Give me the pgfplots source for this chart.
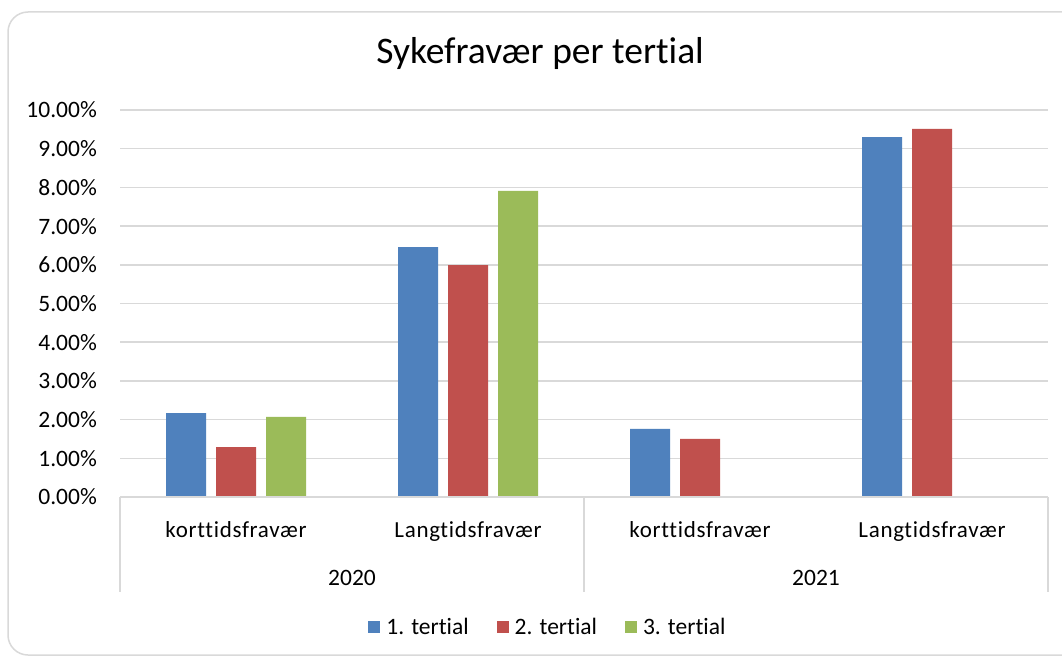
\documentclass[border=0pt]{standalone}
\usepackage{pgfplots}
\pgfplotsset{compat=1.18}
\usepackage{fontspec}
\setmainfont{Carlito}[Ligatures=CommonOff]
\newfontfamily\spaced{Carlito}[LetterSpace=3,Ligatures=CommonOff]
\definecolor{cblue}{HTML}{4F81BD}
\definecolor{cred}{HTML}{C0504D}
\definecolor{cgreen}{HTML}{9BBB59}
\definecolor{gridc}{HTML}{D9D9D9}
\pgfplotsset{mylegend/.style={legend image code/.code={\fill[##1,draw=none] (0pt,-6pt) rectangle (12pt,6pt);}}}
\begin{document}
\begin{tikzpicture}[x=1pt,y=1pt]
\useasboundingbox (0,0) rectangle (1062,657);
\fill[white] (0,0) rectangle (1062,657);
\begin{scope}
\clip (0,0) rectangle (1062,657);
\draw[gridc, line width=1.5pt, rounded corners=20pt] (8,2) rectangle (1120,645);
\end{scope}
\node[font=\fontsize{37.5}{42}\selectfont] at (540,603) {Sykefravær per tertial};
\begin{axis}[
  at={(120pt,160pt)}, anchor=south west,
  scale only axis, width=928pt, height=387pt,
  xmin=-0.5, xmax=3.5, ymin=0, ymax=10,
  ybar=10pt, bar width=40pt,
  xtick={0,1,2,3},
  xticklabels={korttidsfravær,Langtidsfravær,korttidsfravær,Langtidsfravær},
  ytick={0,1,...,10},
  ymajorgrids, grid style={gridc, line width=1.5pt},
  axis line style={draw=none},
  major tick length=0pt,
  tick label style={font=\fontsize{23.5}{27}\selectfont},
  /pgf/number format/assume math mode=true,
  yticklabel={\pgfmathprintnumber[fixed,fixed zerofill,precision=2]{\tick}\%},
  yticklabel style={anchor=east, inner sep=0pt, xshift=-23pt},
  xticklabel style={anchor=base, inner sep=0pt, yshift=-40pt, font=\spaced\fontsize{23}{27}\selectfont},
  legend style={at={(0.46,-0.336)}, anchor=center, draw=none, fill=none,
    legend columns=-1, font=\fontsize{23.5}{27}\selectfont,
    /tikz/every even column/.append style={column sep=28pt},
    /tikz/every odd column/.append style={column sep=6pt},
    nodes={inner sep=0pt}},
  clip=false,
]
\addplot[fill=cblue, draw=none, mylegend] coordinates {(0,2.17) (1,6.46) (2,1.76) (3,9.30)};
\addplot[fill=cred, draw=none, mylegend] coordinates {(0,1.29) (1,5.99) (2,1.50) (3,9.51)};
\addplot[fill=cgreen, draw=none, mylegend] coordinates {(0,2.07) (1,7.91)};
\legend{1. tertial, 2. tertial, 3. tertial}
\draw[gridc, line width=1.5pt] (axis cs:-0.5,0) -- (axis cs:3.5,0);
\draw[gridc, line width=1.5pt] (axis cs:-0.5,0) -- ++(0pt,-95pt);
\draw[gridc, line width=1.5pt] (axis cs:1.5,0) -- ++(0pt,-95pt);
\draw[gridc, line width=1.5pt] (axis cs:3.5,0) -- ++(0pt,-95pt);
\node[anchor=base, inner sep=0pt, font=\fontsize{23.5}{27}\selectfont] at ([yshift=-88pt]axis cs:0.5,0) {2020};
\node[anchor=base, inner sep=0pt, font=\fontsize{23.5}{27}\selectfont] at ([yshift=-88pt]axis cs:2.5,0) {2021};
\end{axis}
\end{tikzpicture}
\end{document}
